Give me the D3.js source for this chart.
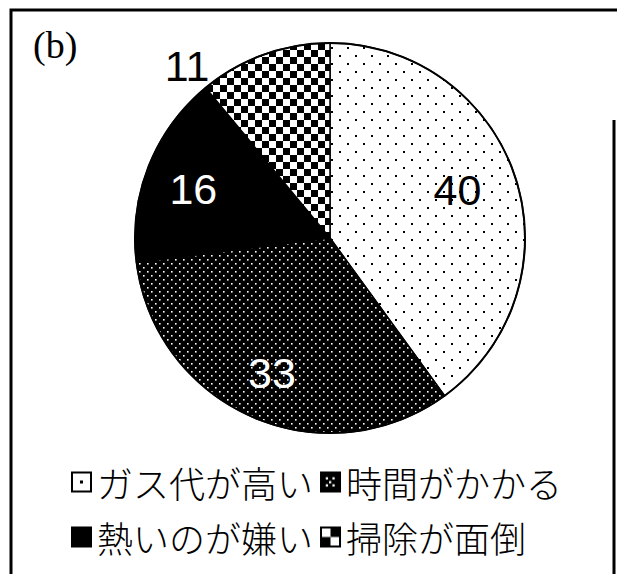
<!DOCTYPE html>
<html>
<head>
<meta charset="utf-8">
<script src="https://cdn.jsdelivr.net/npm/d3@7"></script>
<style>
  body { margin: 0; background: #fff; }
  svg { display: block; }
</style>
</head>
<body>
<svg id="chart" width="617" height="574"></svg>
<script>
// data
var categories = ["ガス代が高い", "時間がかかる", "熱いのが嫌い", "掃除が面倒"];
var values = [40, 33, 16, 11];
var fills = ["dotsLight", "dotsDark", "solid", "checker"];
var labelColors = ["#000", "#fff", "#fff", "#000"];
// where the number sits: fraction through the slice, and radius factor
var labelAt = [0.48, 0.5, 0.47, 0];
var labelRad = [0.70, 0.75, 0.745, 1.15];
var legendRows = [[0, 1], [2, 3]];
var panelTag = "(b)";

var svg = d3.select("#chart");
svg.append("rect").attr("width", 617).attr("height", 574).attr("fill", "#fff");

var defs = svg.append("defs");

// sparse black dots on white
var p1 = defs.append("pattern").attr("id", "dotsLight")
    .attr("patternUnits", "userSpaceOnUse").attr("width", 16).attr("height", 16);
p1.append("rect").attr("width", 16).attr("height", 16).attr("fill", "#fff");
p1.append("rect").attr("x", 1).attr("y", 1).attr("width", 2).attr("height", 2).attr("fill", "#000");
p1.append("rect").attr("x", 9).attr("y", 9).attr("width", 2).attr("height", 2).attr("fill", "#000");

// dense white dots on black
var p2 = defs.append("pattern").attr("id", "dotsDark")
    .attr("patternUnits", "userSpaceOnUse").attr("width", 8).attr("height", 8);
p2.append("rect").attr("width", 8).attr("height", 8).attr("fill", "#000");
p2.append("rect").attr("x", 1).attr("y", 1).attr("width", 1.6).attr("height", 1.6).attr("fill", "#fff");
p2.append("rect").attr("x", 5).attr("y", 5).attr("width", 1.6).attr("height", 1.6).attr("fill", "#fff");

// solid black
var p4 = defs.append("pattern").attr("id", "solid")
    .attr("patternUnits", "userSpaceOnUse").attr("width", 8).attr("height", 8);
p4.append("rect").attr("width", 8).attr("height", 8).attr("fill", "#000");

// checkerboard
var p3 = defs.append("pattern").attr("id", "checker")
    .attr("patternUnits", "userSpaceOnUse").attr("width", 14).attr("height", 14)
    .attr("patternTransform", "translate(2,1)");
p3.append("rect").attr("width", 14).attr("height", 14).attr("fill", "#fff");
p3.append("rect").attr("width", 7).attr("height", 7).attr("fill", "#000");
p3.append("rect").attr("x", 7).attr("y", 7).attr("width", 7).attr("height", 7).attr("fill", "#000");

// legend swatch fills (scaled to the box)
var l1 = defs.append("pattern").attr("id", "lg_dotsLight")
    .attr("patternContentUnits", "objectBoundingBox").attr("width", 1).attr("height", 1);
l1.append("rect").attr("width", 1).attr("height", 1).attr("fill", "#fff");
l1.append("rect").attr("x", 0.42).attr("y", 0.42).attr("width", 0.16).attr("height", 0.16).attr("fill", "#000");
var l2 = defs.append("pattern").attr("id", "lg_dotsDark")
    .attr("patternContentUnits", "objectBoundingBox").attr("width", 1).attr("height", 1);
l2.append("rect").attr("width", 1).attr("height", 1).attr("fill", "#000");
[[0.25, 0.25], [0.6, 0.25], [0.42, 0.45], [0.25, 0.62], [0.6, 0.62]].forEach(function(d) {
  l2.append("rect").attr("x", d[0]).attr("y", d[1]).attr("width", 0.12).attr("height", 0.12).attr("fill", "#fff");
});
var l4 = defs.append("pattern").attr("id", "lg_solid")
    .attr("patternContentUnits", "objectBoundingBox").attr("width", 1).attr("height", 1);
l4.append("rect").attr("width", 1).attr("height", 1).attr("fill", "#000");
var l3 = defs.append("pattern").attr("id", "lg_checker")
    .attr("patternContentUnits", "objectBoundingBox").attr("width", 1).attr("height", 1);
l3.append("rect").attr("width", 1).attr("height", 1).attr("fill", "#fff");
l3.append("rect").attr("x", 0.5).attr("width", 0.5).attr("height", 0.5).attr("fill", "#000");
l3.append("rect").attr("y", 0.5).attr("width", 0.5).attr("height", 0.5).attr("fill", "#000");

// frame
svg.append("path")
    .attr("d", "M11,574 L11,10 L617,10 M614,120 L614,574")
    .attr("fill", "none").attr("stroke", "#000").attr("stroke-width", 3);

svg.append("text")
    .attr("x", 33).attr("y", 58)
    .style("font-family", "'Liberation Serif', 'DejaVu Serif', serif")
    .style("font-size", "38px")
    .text(panelTag);

// pie
var cx = 330, cy = 238, radius = 195;
var pie = d3.pie().sort(null).value(function(d) { return d; });
var arcs = pie(values);
var arc = d3.arc().innerRadius(0).outerRadius(radius);

var g = svg.append("g").attr("transform", "translate(" + cx + "," + cy + ")");

g.selectAll(".slice")
  .data(arcs)
  .enter().append("path")
    .attr("class", "slice")
    .attr("d", arc)
    .attr("fill", function(d, i) { return "url(#" + fills[i] + ")"; })
    .attr("stroke", "#000")
    .attr("stroke-width", 1.5);

g.append("circle").attr("r", radius).attr("fill", "none")
    .attr("stroke", "#000").attr("stroke-width", 2);

g.selectAll(".lbl")
  .data(arcs)
  .enter().append("text")
    .attr("class", "lbl")
    .attr("transform", function(d, i) {
      var a = d.startAngle + (d.endAngle - d.startAngle) * labelAt[i];
      var r = radius * labelRad[i];
      return "translate(" + (r * Math.sin(a)) + "," + (-r * Math.cos(a)) + ")";
    })
    .attr("text-anchor", "middle")
    .attr("dy", "0.36em")
    .attr("fill", function(d, i) { return labelColors[i]; })
    .style("font-family", "'Liberation Sans', Arial, sans-serif")
    .style("font-size", "43px")
    .text(function(d) { return d.data; });

// legend
var legendX = 72, rowY = [482, 537], box = 19, gapBox = 6, gapItem = 8;
legendRows.forEach(function(row, ri) {
  var x = legendX;
  row.forEach(function(ci) {
    svg.append("rect")
        .attr("x", x).attr("y", rowY[ri] - box / 2)
        .attr("width", box).attr("height", box)
        .attr("fill", "url(#lg_" + fills[ci] + ")")
        .attr("stroke", "#000").attr("stroke-width", 2);
    x += box + gapBox;
    var t = svg.append("text")
        .attr("x", x).attr("y", rowY[ri])
        .attr("dominant-baseline", "central")
        .style("font-family", "'Noto Sans CJK JP', sans-serif")
        .style("font-weight", 300)
        .style("font-size", "36px")
        .text(categories[ci]);
    x += t.node().getComputedTextLength() + gapItem;
  });
});
</script>
</body>
</html>
